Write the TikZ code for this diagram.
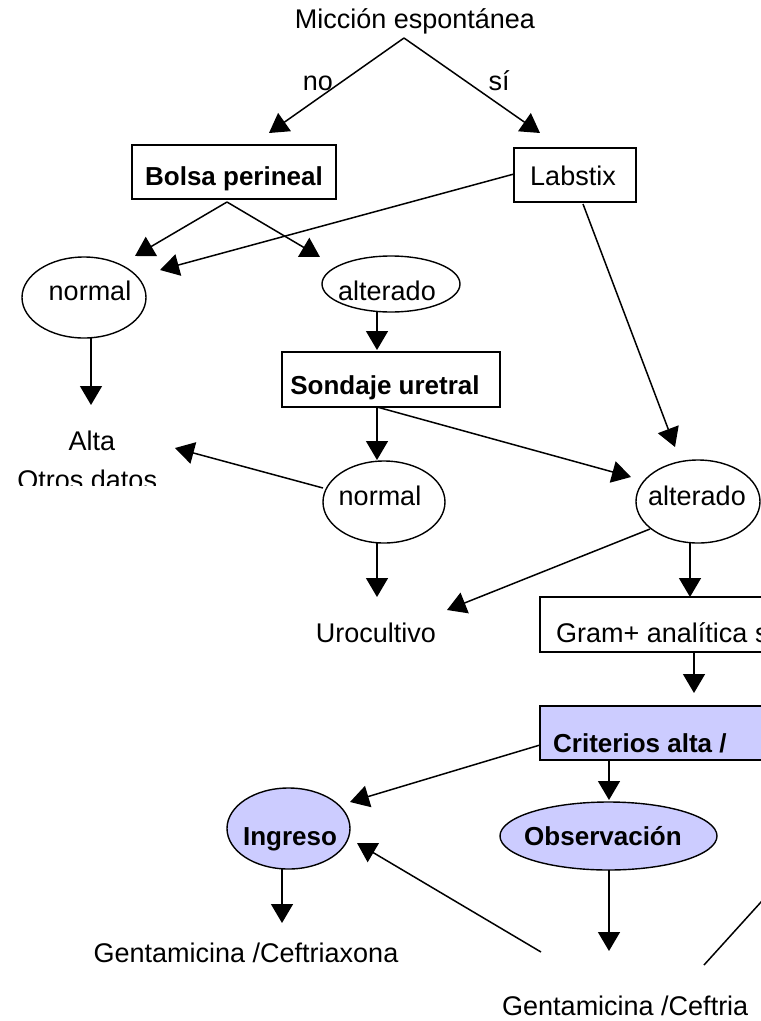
\documentclass[tikz,border=0pt]{standalone}
\usepackage{fontspec}
\setmainfont{Liberation Sans}
\usetikzlibrary{arrows.meta,shapes.geometric}
\definecolor{lav}{HTML}{CCCCFF}
\begin{document}
\begin{tikzpicture}[x=1pt,y=-1pt,
  conn/.style={line width=1.5pt},
  arr/.style={conn,-{Triangle[length=19pt,width=22pt]}},
  boxshape/.style={draw,line width=1.5pt,rectangle,inner sep=0pt},
  ellshape/.style={draw,line width=1.4pt,ellipse,inner sep=0pt},
  txt/.style={font=\fontsize{27}{30}\selectfont,anchor=base,inner sep=0pt},
  btxt/.style={font=\fontsize{26}{30}\selectfont\bfseries,anchor=base,inner sep=0pt}
]
\clip (0,0) rectangle (761,1021);
\fill[white] (0,0) rectangle (761,1021);

% shapes
\node[boxshape,minimum width=204pt,minimum height=54pt] (bolsa) at (234,172) {};
\node[boxshape,minimum width=122pt,minimum height=54pt] (labstix) at (575,175) {};
\node[ellshape,minimum width=124pt,minimum height=81pt] (normA) at (84,297.5) {};
\node[ellshape,minimum width=138pt,minimum height=56pt] (alt1) at (391,284) {};
\node[boxshape,minimum width=218pt,minimum height=55pt] (sondaje) at (391,379.5) {};
\node[ellshape,minimum width=122pt,minimum height=82pt] (normB) at (384,502) {};
\node[ellshape,minimum width=124pt,minimum height=83pt] (alt2) at (698,501.5) {};
\node[boxshape,minimum width=260pt,minimum height=55pt] (gram) at (670,624.5) {};
\node[boxshape,fill=lav,minimum width=260pt,minimum height=54pt] (crit) at (670,733) {};
\node[ellshape,fill=lav,minimum width=123pt,minimum height=81pt] (ingreso) at (288.5,828.5) {};
\node[ellshape,fill=lav,minimum width=217pt,minimum height=68pt] (obs) at (608.5,836) {};

% texts
\node[txt] (mic) at (415,28) {Micción espontánea};
\node[txt] (no) at (318,90) {no};
\node[txt] (si) at (499,90) {sí};
\node[btxt] (tBolsa) at (234,185) {Bolsa perineal};
\node[txt] (tLab) at (573,185) {Labstix};
\node[txt] (tNormA) at (90,300) {normal};
\node[txt] (tAlt1) at (387,300) {alterado};
\node[btxt] (tSond) at (385,394) {Sondaje uretral};
\node[txt] (alta) at (92,450) {Alta};
\begin{scope}
\clip (0,0) rectangle (761,485);
\node[txt] (otros) at (91,489) {Otros datos.};
\end{scope}
\node[txt] (tNormB) at (380,505) {normal};
\node[txt] (tAlt2) at (697,505) {alterado};
\node[txt] (uro) at (376,642) {Urocultivo};
\node[txt,anchor=base west] (tGram) at (556,642) {Gram+ analítica s};
\node[btxt,anchor=base west] (tCrit) at (553,752) {Criterios alta /};
\node[btxt] (tIng) at (290,845) {Ingreso};
\node[btxt] (tObs) at (603,845) {Observación};
\node[txt] (gent1) at (246,962) {Gentamicina /Ceftriaxona};
\node[txt,anchor=base west] (gent2) at (502,1015) {Gentamicina /Ceftria};

% connector points
\coordinate (apex) at (404,38);
\coordinate (bApex) at (227,202);
\coordinate (pBolsa) at (269,133);
\coordinate (pLab) at (540,133);
\coordinate (pNormA) at (135,256);
\coordinate (pAlt1) at (320,257);
\coordinate (labW) at (514,174);
\coordinate (labS) at (583,204);
\coordinate (pNormA2) at (160,270);
\coordinate (pAlt2a) at (675,447);
\coordinate (nAbot) at (91,338);
\coordinate (pAlta) at (91,405);
\coordinate (a1bot) at (377,312);
\coordinate (pSond) at (377,350);
\coordinate (sBot) at (377,407);
\coordinate (pNormB) at (377,460);
\coordinate (pAlt2b) at (631,477);
\coordinate (nBw) at (323,488);
\coordinate (pAlta2) at (175,448);
\coordinate (nBbot) at (377,543);
\coordinate (pUro) at (377,597);
\coordinate (a2w) at (650,529);
\coordinate (pUro2) at (447,610);
\coordinate (a2bot) at (690,543);
\coordinate (pGram) at (690,597);
\coordinate (gBot) at (694,652);
\coordinate (pCrit) at (694,693);
\coordinate (cW) at (540,745);
\coordinate (pIng) at (350,802);
\coordinate (cBot) at (609,760);
\coordinate (pObs) at (609,800);
\coordinate (iBot) at (282,869);
\coordinate (pGent1) at (282,923);
\coordinate (oBot) at (609,870);
\coordinate (pGent2) at (609,951);
\coordinate (g2a) at (541,952);
\coordinate (pIng2) at (357,843);
\coordinate (g2b) at (704,965);
\coordinate (offR) at (790,870);

% connectors
\draw[arr] (apex) -- (pBolsa);
\draw[arr] (apex) -- (pLab);
\draw[arr] (bApex) -- (pNormA);
\draw[arr] (bApex) -- (pAlt1);
\draw[arr] (labW) -- (pNormA2);
\draw[arr] (labS) -- (pAlt2a);
\draw[arr] (nAbot) -- (pAlta);
\draw[arr] (a1bot) -- (pSond);
\draw[arr] (sBot) -- (pNormB);
\draw[arr] (sBot) -- (pAlt2b);
\draw[arr] (nBw) -- (pAlta2);
\draw[arr] (nBbot) -- (pUro);
\draw[arr] (a2w) -- (pUro2);
\draw[arr] (a2bot) -- (pGram);
\draw[arr] (gBot) -- (pCrit);
\draw[arr] (cW) -- (pIng);
\draw[arr] (cBot) -- (pObs);
\draw[arr] (iBot) -- (pGent1);
\draw[arr] (oBot) -- (pGent2);
\draw[arr] (g2a) -- (pIng2);
\draw[conn] (g2b) -- (offR);
\end{tikzpicture}
\end{document}
